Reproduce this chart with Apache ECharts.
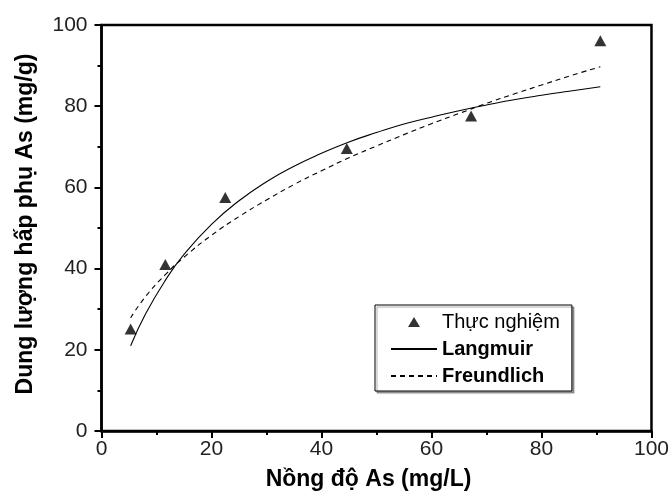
<!DOCTYPE html>
<html>
<head>
<meta charset="utf-8">
<script src="https://cdn.jsdelivr.net/npm/echarts@6/dist/echarts.min.js"></script>
<style>html,body{margin:0;padding:0;background:#fff}#c{width:672px;height:496px}</style>
</head>
<body>
<div id="c"></div>
<script>
const expX = [5.3, 11.6, 22.5, 44.6, 67.2, 90.7];
const expY = [25.1, 41.0, 57.5, 69.6, 77.6, 96.1];
// Fitted curves, values
const curveX = [5.3, 8, 11.6, 15, 20, 25, 30, 35, 40, 45, 50, 55, 60, 65, 70, 75, 80, 85, 90.7];
const langmuirY = [21.0, 28.8, 37.1, 43.5, 50.9, 56.7, 61.4, 65.2, 68.4, 71.2, 73.5, 75.6, 77.3, 78.9, 80.3, 81.6, 82.7, 83.7, 84.8];
const freundlichY = [27.9, 33.1, 38.5, 42.8, 48.2, 52.8, 56.9, 60.7, 64.1, 67.3, 70.2, 73.0, 75.7, 78.2, 80.7, 83.0, 85.2, 87.4, 89.7];
const xTitle = 'Nồng độ As (mg/L)';
const yTitle = 'Dung lượng hấp phụ As (mg/g)';
const names = ['Thực nghiệm', 'Langmuir', 'Freundlich'];

const font = '"Liberation Sans", Arial, sans-serif';
const pair = (xs, ys) => xs.map((x, i) => [x, ys[i]]);
const hiddenSymbol = {color: 'rgba(0,0,0,0)', borderColor: 'rgba(0,0,0,0)', borderWidth: 0};

const chart = echarts.init(document.getElementById('c'), null, {renderer: 'canvas'});
chart.setOption({
  animation: false,
  grid: {left: 101.5, right: 17, top: 25, bottom: 64.5, show: true, borderColor: '#000', borderWidth: 2.5, containLabel: false},
  legend: {
    orient: 'vertical', left: 375, top: 305,
    itemWidth: 46, itemHeight: 14, itemGap: 7,
    padding: [7, 12, 5, 15],
    borderColor: '#000', borderWidth: 1,
    backgroundColor: '#fff',
    shadowColor: 'rgba(0,0,0,0.35)', shadowOffsetX: 2, shadowOffsetY: 2, shadowBlur: 1,
    symbolKeepAspect: true,
    textStyle: {fontFamily: font, fontSize: 20, color: '#000'},
    data: [
      {name: names[0], icon: 'path://M0,0M7,2L13,12L1,12ZM14,14', textStyle: {fontWeight: 'normal'}},
      {name: names[1], itemStyle: hiddenSymbol, textStyle: {fontWeight: 'bold'}},
      {name: names[2], itemStyle: hiddenSymbol, textStyle: {fontWeight: 'bold'}}
    ]
  },
  xAxis: {
    type: 'value', min: 0, max: 100, interval: 20,
    name: xTitle, nameLocation: 'middle', nameGap: 37,
    nameTextStyle: {fontFamily: font, fontSize: 23, fontWeight: 'bold', color: '#000', padding: [0, 16, 0, 0]},
    axisLine: {show: true, lineStyle: {color: '#000', width: 2.5}},
    axisTick: {show: true, inside: false, length: 7, lineStyle: {color: '#000', width: 2}},
    minorTick: {show: true, splitNumber: 2, length: 4, lineStyle: {color: '#000', width: 2}},
    axisLabel: {fontFamily: font, fontSize: 21, color: '#222', margin: 8},
    splitLine: {show: false}
  },
  yAxis: {
    type: 'value', min: 0, max: 100, interval: 20,
    name: yTitle, nameLocation: 'middle', nameGap: 64,
    nameTextStyle: {fontFamily: font, fontSize: 23, fontWeight: 'bold', color: '#000', padding: [0, 0, 0, 8]},
    axisLine: {show: true, lineStyle: {color: '#000', width: 2.5}},
    axisTick: {show: true, inside: false, length: 7, lineStyle: {color: '#000', width: 2}},
    minorTick: {show: true, splitNumber: 2, length: 4, lineStyle: {color: '#000', width: 2}},
    axisLabel: {fontFamily: font, fontSize: 21, color: '#222', margin: 14},
    splitLine: {show: false}
  },
  series: [
    {
      name: names[0], type: 'scatter', symbol: 'triangle', symbolSize: [12, 11],
      itemStyle: {color: '#000'}, data: pair(expX, expY), z: 5
    },
    {
      name: names[1], type: 'line', smooth: true, symbol: 'none', showSymbol: false,
      lineStyle: {color: '#000', width: 1.1, type: 'solid'}, itemStyle: {color: '#000'},
      data: pair(curveX, langmuirY)
    },
    {
      name: names[2], type: 'line', smooth: true, symbol: 'none', showSymbol: false,
      lineStyle: {color: '#000', width: 1.1, type: [5, 4]}, itemStyle: {color: '#000'},
      data: pair(curveX, freundlichY)
    }
  ]
});
</script>
</body>
</html>
